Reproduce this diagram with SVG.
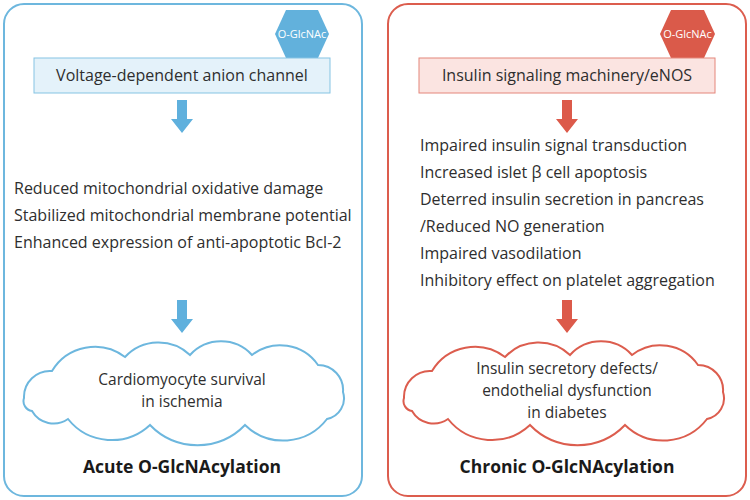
<svg xmlns="http://www.w3.org/2000/svg" width="750" height="500" viewBox="0 0 750 500">
<style>
text{font-family:"Open Sans","Liberation Sans",sans-serif;fill:#2e2e2e}
.t{font-size:16px}
.ct{font-size:15.5px}
.c{text-anchor:middle}
.b{font-size:17.5px;font-weight:bold;fill:#1a1a1a}
.hx{font-size:11px;fill:#ffffff;text-anchor:middle}
.cloud{fill:#ffffff;stroke-width:2}
</style>
<defs>
<path id="cloud" d="M24,398 A26,26 0 0 1 52,371 A50,50 0 0 1 125,357 A46,46 0 0 1 190,355 A42,42 0 0 1 252,355 A46,46 0 0 1 318,365 A25,25 0 0 1 343,392 A21,21 0 0 1 327,419 A55,55 0 0 1 245,425 A66,66 0 0 1 150,425 A56,56 0 0 1 68,419 A25,25 0 0 1 32,411 A10,10 0 0 1 24,398 Z"/>
<path id="arrow" d="M-5,0 H5 V19 H11 L0,33 L-11,19 H-5 Z"/>
</defs>
<g id="panel-acute">
<rect x="4" y="4" width="358" height="492" rx="20" fill="#ffffff" stroke="#6db7de" stroke-width="2"/>
</g>
<g id="panel-chronic">
<rect x="388" y="4" width="358" height="492" rx="20" fill="#ffffff" stroke="#dc5d4e" stroke-width="2"/>
</g>
<g id="hex-left">
<polygon points="275,34 286,10 318,10 329,34 318,58 286,58" fill="#62b1dc"/>
<text class="hx" x="302" y="38">O-GlcNAc</text>
</g>
<g id="hex-right">
<polygon points="660,34 671,10 704,10 715,34 704,58 671,58" fill="#da5a4a"/>
<text class="hx" x="687.5" y="38">O-GlcNAc</text>
</g>
<g id="box-vdac">
<rect x="34" y="58" width="296" height="35" fill="#e4f2fa" stroke="#85c4e3" stroke-width="1"/>
<text class="t c" x="182" y="81">Voltage-dependent anion channel</text>
</g>
<g id="box-insulin">
<rect x="419" y="58" width="296" height="35" fill="#fbe4e1" stroke="#e4867b" stroke-width="1"/>
<text class="t c" x="567" y="81">Insulin signaling machinery/eNOS</text>
</g>
<g id="connectors">
<use href="#arrow" transform="translate(182,100)" fill="#5fb0dd"/>
<use href="#arrow" transform="translate(182,300)" fill="#5fb0dd"/>
<use href="#arrow" transform="translate(567,100)" fill="#dc5a4a"/>
<use href="#arrow" transform="translate(567,300)" fill="#dc5a4a"/>
</g>
<g id="effects-acute">
<text class="t" x="14" y="194">Reduced mitochondrial oxidative damage</text>
<text class="t" x="14" y="221">Stabilized mitochondrial membrane potential</text>
<text class="t" x="14" y="248">Enhanced expression of anti-apoptotic Bcl-2</text>
</g>
<g id="effects-chronic">
<text class="t" x="420" y="151">Impaired insulin signal transduction</text>
<text class="t" x="420" y="178">Increased islet β cell apoptosis</text>
<text class="t" x="420" y="205">Deterred insulin secretion in pancreas</text>
<text class="t" x="420" y="232">/Reduced NO generation</text>
<text class="t" x="420" y="259">Impaired vasodilation</text>
<text class="t" x="420" y="286">Inhibitory effect on platelet aggregation</text>
</g>
<g id="cloud-acute">
<use href="#cloud" class="cloud" stroke="#6db7de"/>
<text class="ct c" x="182" y="385">Cardiomyocyte survival</text>
<text class="ct c" x="182" y="407">in ischemia</text>
</g>
<g id="cloud-chronic">
<use href="#cloud" class="cloud" stroke="#dc5d4e" transform="translate(380,0)"/>
<text class="ct c" x="567" y="374">Insulin secretory defects/</text>
<text class="ct c" x="567" y="396">endothelial dysfunction</text>
<text class="ct c" x="567" y="418">in diabetes</text>
</g>
<g id="titles">
<text class="b c" x="182" y="473">Acute O-GlcNAcylation</text>
<text class="b c" x="567" y="473">Chronic O-GlcNAcylation</text>
</g>
</svg>
